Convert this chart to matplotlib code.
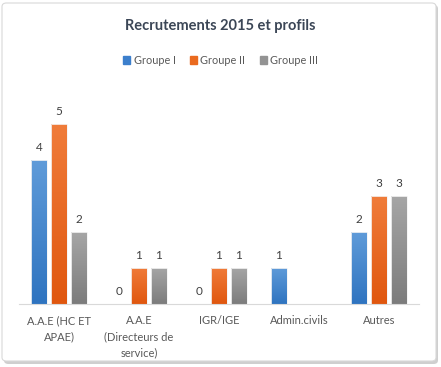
import numpy as np
import matplotlib
matplotlib.use('Agg')
import matplotlib.pyplot as plt
from matplotlib.patches import FancyBboxPatch, Patch
from matplotlib.colors import LinearSegmentedColormap

categories = ['A.A.E (HC ET\nAPAE)', 'A.A.E\n(Directeurs de\nservice)', 'IGR/IGE', 'Admin.civils', 'Autres']
series_names = ['Groupe I', 'Groupe II', 'Groupe III']
groupe_1 = [4, 0, 0, 1, 2]
groupe_2 = [5, 1, 1, None, 3]
groupe_3 = [2, 1, 1, None, 3]

plt.rcParams['font.family'] = ['Lato', 'DejaVu Sans']

# (top colour, bottom colour) for the Excel-like gradient fill
shades = [('#5f9bd9', '#2f74c0'), ('#f07c3a', '#e0570f'), ('#a6a6a6', '#7c7c7c')]
legend_cols = ['#3c7fcc', '#ea6a1f', '#939393']

fig = plt.figure(figsize=(4.41, 3.67), dpi=100)
ax = fig.add_axes([19 / 441, 1 - 304 / 367, 400 / 441, 216 / 367])

# chart border with shadow
fig.patches.append(FancyBboxPatch((4 / 441, 1 - 364 / 367), 434 / 441, 359 / 367,
                                  boxstyle='round,pad=0,rounding_size=0.01',
                                  transform=fig.transFigure, facecolor='#cfcfcf',
                                  edgecolor='none', zorder=-2))
fig.patches.append(FancyBboxPatch((2 / 441, 1 - 361 / 367), 434 / 441, 358 / 367,
                                  boxstyle='round,pad=0,rounding_size=0.01',
                                  transform=fig.transFigure, facecolor='white',
                                  edgecolor='#d9d9d9', linewidth=0.8, zorder=-1))

x = np.arange(len(categories))
width = 0.2
offsets = [-0.25, 0, 0.25]
all_series = [groupe_1, groupe_2, groupe_3]
for vals, off, (top, bot), name in zip(all_series, offsets, shades, series_names):
    cmap = LinearSegmentedColormap.from_list(name, [bot, top])
    for xi, v in zip(x, vals):
        if v is None:
            continue
        if v > 0:
            bar = ax.bar(xi + off, v, width, color='none', edgecolor='#f4f4f4',
                         linewidth=0.6, zorder=3)[0]
            grad = np.linspace(0, 1, 100).reshape(-1, 1)
            im = ax.imshow(grad, cmap=cmap, origin='lower', aspect='auto',
                           extent=[xi + off - width / 2, xi + off + width / 2, 0, v], zorder=2)
            im.set_clip_path(bar)
        ax.text(xi + off, v + 0.2, str(v), ha='center', va='bottom',
                fontsize=8.5, color='#404040')

ax.set_xlim(-0.5, len(categories) - 0.5)
ax.set_ylim(0, 6)
ax.set_xticks(x)
ax.set_xticklabels(categories, fontsize=8, color='#595959', linespacing=1.55, va='top')
ax.tick_params(axis='x', length=0, pad=8)
ax.set_yticks([])
for s in ['top', 'right', 'left']:
    ax.spines[s].set_visible(False)
ax.spines['bottom'].set_color('#d9d9d9')
ax.spines['bottom'].set_linewidth(0.8)
ax.set_facecolor('none')

fig.text(0.5, 1 - 26 / 367, 'Recrutements 2015 et profils', ha='center', va='center',
         fontsize=10.5, fontweight='bold', color='#3b4656')
handles = [Patch(color=c, label=n) for c, n in zip(legend_cols, series_names)]
fig.legend(handles=handles, loc='center', bbox_to_anchor=(0.5, 1 - 60 / 367),
           ncol=3, frameon=False, fontsize=7.8, handlelength=0.7, handleheight=0.7,
           handletextpad=0.3, columnspacing=1.3, labelcolor='#595959')

fig.savefig('out.png', dpi=100)
